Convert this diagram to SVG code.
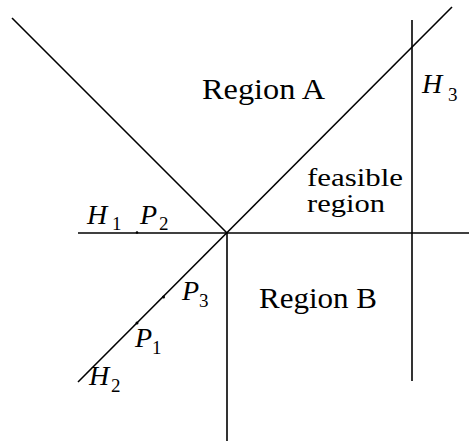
<svg xmlns="http://www.w3.org/2000/svg" width="469" height="442" viewBox="0 0 469 442">
<style>
.ln{stroke:#000;stroke-width:1.6;fill:none;stroke-linecap:butt}
text{fill:#000}
.it{font-style:italic}
</style>
<rect width="469" height="442" fill="#fff"/>
<g id="connectors">
<line class="ln" x1="12" y1="18" x2="227" y2="233"/>
<line class="ln" x1="78" y1="382" x2="452" y2="7"/>
<line class="ln" x1="78" y1="233" x2="469" y2="233"/>
<line class="ln" x1="227" y1="233" x2="227" y2="441"/>
<line class="ln" x1="412" y1="20" x2="412" y2="381"/>
<circle cx="137" cy="232.5" r="1.3" fill="#000"/>
<circle cx="163.5" cy="297" r="1.5" fill="#000"/>
<circle cx="137" cy="323" r="1.5" fill="#000"/>
</g>
<g font-family="Liberation Serif, DejaVu Serif, serif">
<g id="regionA" font-size="29"><text x="202" y="99" textLength="123" lengthAdjust="spacingAndGlyphs">Region A</text></g>
<g id="regionB" font-size="29"><text x="259" y="308" textLength="118" lengthAdjust="spacingAndGlyphs">Region B</text></g>
<g id="feasible" font-size="25">
<text x="307" y="186" textLength="96" lengthAdjust="spacingAndGlyphs">feasible</text>
<text x="307" y="212" textLength="78" lengthAdjust="spacingAndGlyphs">region</text>
</g>
<g id="H1"><text class="it" font-size="28" x="87" y="224">H</text><text font-size="19" x="112" y="230">1</text></g>
<g id="P2"><text class="it" font-size="28" x="140" y="224">P</text><text font-size="19" x="159" y="230">2</text></g>
<g id="H3"><text class="it" font-size="28" x="422" y="93">H</text><text font-size="19" x="448" y="101">3</text></g>
<g id="P3"><text class="it" font-size="28" x="182" y="300">P</text><text font-size="19" x="199" y="307">3</text></g>
<g id="P1"><text class="it" font-size="28" x="135" y="347">P</text><text font-size="19" x="152" y="354">1</text></g>
<g id="H2"><text class="it" font-size="28" x="89" y="385">H</text><text font-size="19" x="111" y="392">2</text></g>
</g>
</svg>
